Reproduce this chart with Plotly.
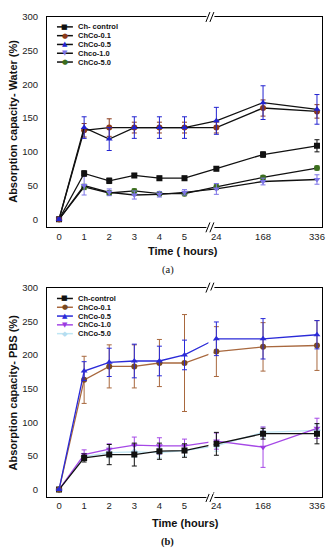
import plotly.graph_objects as go

# ---------------- data ----------------
time_labels = ["0", "1", "2", "3", "4", "5", "24", "168", "336"]
# positions of the hours on the broken time axis
time_pos = [0, 1, 2, 3, 4, 5, 6.27, 8.13, 10.28]

water_names = ["Ch- control", "ChCo-0.1", "ChCo-0.5", "Chco-1.0", "ChCo-5.0"]
water_control = [0, 68, 57, 65, 61, 61, 75, 96, 109]
water_control_err = [2, 4, 4, 3, 3, 3, 3, 4, 9]
water_c01 = [0, 132, 136, 136, 136, 136, 136, 165, 160]
water_c01_err = [2, 10, 13, 8, 8, 8, 8, 12, 10]
water_c05 = [0, 136, 119, 136, 136, 136, 146, 173, 163]
water_c05_err = [2, 16, 17, 16, 16, 16, 20, 25, 22]
water_c10 = [0, 50, 40, 36, 37, 40, 45, 56, 59]
water_c10_err = [2, 14, 5, 6, 4, 4, 8, 5, 7]
water_c50 = [0, 48, 39, 42, 38, 38, 48, 62, 76]
water_c50_err = [2, 4, 3, 3, 3, 3, 4, 3, 3]

pbs_names = ["Ch-control", "ChCo-0.1", "ChCo-0.5", "ChCo-1.0", "ChCo-5.0"]
pbs_control = [0, 47, 52, 52, 57, 58, 68, 83, 83]
pbs_control_err = [1, 6, 15, 17, 12, 10, 17, 8, 15]
pbs_c01 = [0, 163, 183, 183, 188, 188, 205, 212, 214]
pbs_c01_err = [1, 35, 32, 32, 35, 72, 37, 36, 37]
pbs_c05 = [0, 176, 189, 191, 191, 200, 224, 224, 230]
pbs_c05_err = [1, 14, 21, 25, 22, 22, 25, 30, 21]
pbs_c10 = [0, 52, 60, 66, 65, 65, 72, 63, 91]
pbs_c10_err = [1, 7, 8, 12, 12, 10, 12, 30, 15]
pbs_c50 = [0, 49, 55, 56, 55, 58, 65, 85, 88]
pbs_c50_err = [1, 5, 8, 8, 8, 8, 8, 8, 8]

y_ticks = [0, 50, 100, 150, 200, 250, 300]

# ---------------- styles ----------------
W, H = 336, 550
ML, MR, MT, MB = 47, 13, 11, 53
PW, PH = W - ML - MR, H - MT - MB


def px_x(px):
    return (px - ML) / PW


def px_y(py):
    return (H - MB - py) / PH


symbols = ["square", "circle", "triangle-up", "triangle-down", "circle"]
glyphs = ["■", "●", "▲", "▼", "●"]
water_marker_colors = ["#111111", "#8B3A1A", "#2323D0", "#7C74E6", "#3C6E1E"]
water_line_colors = ["#111111"] * 5
pbs_symbols = ["square", "circle", "triangle-up", "triangle-down", "diamond"]
pbs_glyphs = ["■", "●", "▲", "▼", "◆"]
pbs_marker_colors = ["#111111", "#7A4A22", "#2A2AD8", "#9A3AE0", "#B5DDF0"]
pbs_line_colors = ["#111111", "#A8683E", "#2A2AD8", "#A548E6", "#BFE6F4"]

fig = go.Figure()

water_series = [water_control, water_c01, water_c05, water_c10, water_c50]
water_errs = [water_control_err, water_c01_err, water_c05_err, water_c10_err, water_c50_err]
pbs_series = [pbs_control, pbs_c01, pbs_c05, pbs_c10, pbs_c50]
pbs_errs = [pbs_control_err, pbs_c01_err, pbs_c05_err, pbs_c10_err, pbs_c50_err]

draw_order = [4, 3, 0, 1, 2]
for i in draw_order:
    fig.add_trace(go.Scatter(
        x=time_pos, y=water_series[i], name=water_names[i], mode="lines+markers",
        line=dict(color=water_line_colors[i], width=1.3),
        marker=dict(symbol=symbols[i], size=6, color=water_marker_colors[i]),
        error_y=dict(type="data", array=water_errs[i], color=water_marker_colors[i],
                     thickness=1, width=2.5),
        xaxis="x", yaxis="y", showlegend=False))

for i in draw_order:
    fig.add_trace(go.Scatter(
        x=time_pos, y=pbs_series[i], name=pbs_names[i], mode="lines+markers",
        line=dict(color=pbs_line_colors[i], width=1.3),
        marker=dict(symbol=pbs_symbols[i], size=6, color=pbs_marker_colors[i]),
        error_y=dict(type="data", array=pbs_errs[i], color=pbs_line_colors[i],
                     thickness=1, width=2.5),
        xaxis="x2", yaxis="y2", showlegend=False))

axis_common = dict(showline=True, mirror=True, linecolor="black", linewidth=1,
                   showgrid=False, zeroline=False, ticks="",
                   tickfont=dict(family="Liberation Sans, Arial", size=9.5, color="#222"))

fig.update_layout(
    width=W, height=H, margin=dict(l=ML, r=MR, t=MT, b=MB),
    paper_bgcolor="white", plot_bgcolor="white", showlegend=False,
    xaxis=dict(domain=[0, 1], range=[-0.48, 10.48], tickvals=time_pos, ticktext=time_labels,
               anchor="y", **axis_common),
    yaxis=dict(domain=[px_y(224), 1], range=[-12, 300], tickvals=y_ticks, anchor="x",
               ticklabelstandoff=6, **axis_common),
    xaxis2=dict(domain=[0, 1], range=[-0.48, 10.48], tickvals=time_pos, ticktext=time_labels,
                anchor="y2", **axis_common),
    yaxis2=dict(domain=[0, px_y(285)], range=[-11, 300], tickvals=y_ticks, anchor="x2",
                ticklabelstandoff=6, **axis_common),
)

shapes = []
annotations = []

# axis break marks
bx = 211
for frame_y in [11, 224, 285, 497]:
    shapes.append(dict(type="rect", xref="paper", yref="paper",
                       x0=px_x(bx - 4), x1=px_x(bx + 4), y0=px_y(frame_y + 2), y1=px_y(frame_y - 2),
                       fillcolor="white", line=dict(width=0), layer="above"))
    for dx in (-2.5, 1.5):
        shapes.append(dict(type="line", xref="paper", yref="paper",
                           x0=px_x(bx + dx - 2), y0=px_y(frame_y + 5),
                           x1=px_x(bx + dx + 2), y1=px_y(frame_y - 5),
                           line=dict(color="black", width=1), layer="above"))
# gap of the lines at the break in panel (b)
shapes.append(dict(type="rect", xref="paper", yref="paper",
                   x0=px_x(209), x1=px_x(214), y0=px_y(494), y1=px_y(288),
                   fillcolor="white", line=dict(width=0), layer="above"))

# legends (drawn as text)
def add_legend(names, glyph_list, mcolors, lcolors, top_py):
    for k, name in enumerate(names):
        py = top_py + k * 8.9
        shapes.append(dict(type="line", xref="paper", yref="paper",
                           x0=px_x(57), x1=px_x(73), y0=px_y(py), y1=px_y(py),
                           line=dict(color=lcolors[k], width=1.5), layer="above"))
        annotations.append(dict(xref="paper", yref="paper", x=px_x(65), y=px_y(py),
                                text=glyph_list[k], showarrow=False, xanchor="center",
                                yanchor="middle",
                                font=dict(family="DejaVu Sans", size=7, color=mcolors[k])))
        annotations.append(dict(xref="paper", yref="paper", x=px_x(76), y=px_y(py),
                                text="<b>" + name + "</b>", showarrow=False, xanchor="left",
                                yanchor="middle",
                                font=dict(family="Liberation Sans, Arial", size=7.5, color="#111")))


add_legend(water_names, glyphs, water_marker_colors, water_line_colors, 21)
add_legend(pbs_names, pbs_glyphs, pbs_marker_colors, pbs_line_colors, 296)

title_font = dict(family="Liberation Sans, Arial", size=11, color="#111")
label_font = dict(family="Liberation Serif", size=10.5, color="#111")
texts = [
    ("<b>Absorption capacity- Water (%)</b>", 13, 117, -90, title_font),
    ("<b>Absorption capacity- PBS (%)</b>", 13, 391, -90, title_font),
    ("<b>Time ( hours)</b>", 183, 248, 0, title_font),
    ("<b>Time (hours)</b>", 186, 523, 0, title_font),
    ("(a)", 168, 267, 0, label_font),
    ("<b>(b)</b>", 168, 543, 0, label_font),
]
for txt, tx, ty, ang, fnt in texts:
    annotations.append(dict(xref="paper", yref="paper", x=px_x(tx), y=px_y(ty),
                            xanchor="center", yanchor="middle", textangle=ang,
                            text=txt, showarrow=False, font=fnt))

fig.update_layout(shapes=shapes, annotations=annotations)
fig.write_html("out.html", config={"displayModeBar": False},
               post_script="document.body.style.margin='0';document.body.style.overflow='hidden';")
